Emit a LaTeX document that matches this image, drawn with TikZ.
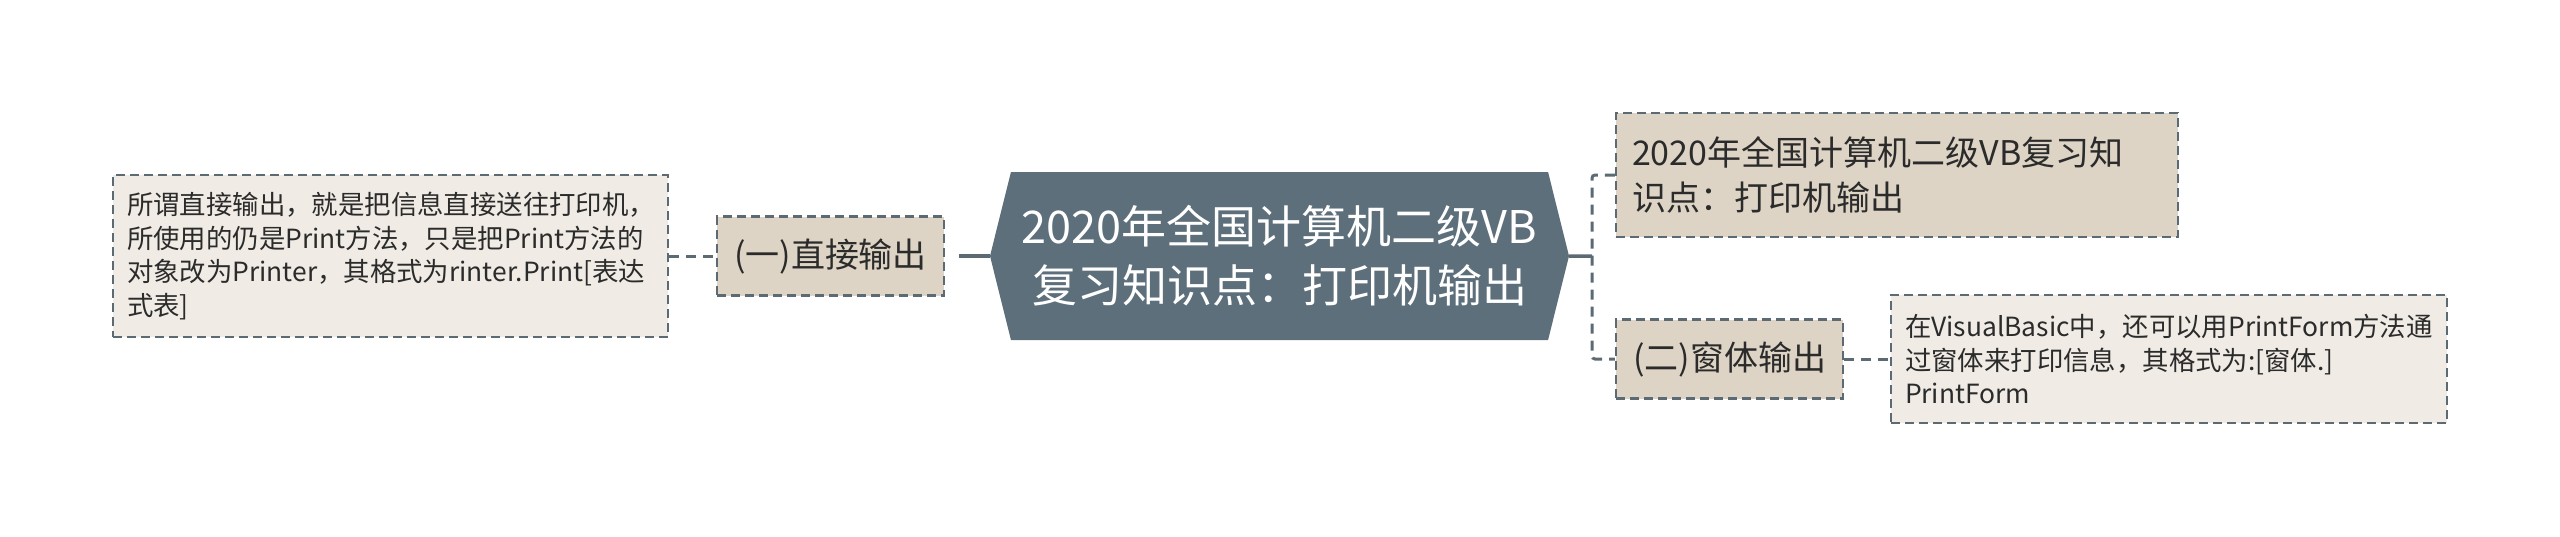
\documentclass[tikz,border=0pt]{standalone}
\usepackage{fontspec}
\setmainfont{Noto Sans CJK SC}
\usepackage{xcolor}
\usetikzlibrary{shapes.symbols}
\definecolor{rootfill}{HTML}{5D6F7B}
\definecolor{mainfill}{HTML}{DDD4C5}
\definecolor{subfill}{HTML}{F0ECE5}
\definecolor{edgecol}{HTML}{5C6A74}
\definecolor{txt}{HTML}{2B2B2B}

\begin{document}
\begin{tikzpicture}[x=1pt, y=-1pt,
    every node/.style={text=txt, inner sep=0pt},
    mainbox/.style={draw=edgecol, line width=2.5pt, dash pattern=on 9pt off 5pt, fill=mainfill, font=\fontsize{34}{45}\selectfont},
    subbox/.style={draw=edgecol, line width=2.5pt, dash pattern=on 9pt off 5pt, fill=subfill, font=\fontsize{26.4}{33.5}\selectfont, align=left},
    link/.style={draw=edgecol, line width=3pt, dash pattern=on 10pt off 7pt},
    trunk/.style={draw=edgecol, line width=3.5pt}]
      \useasboundingbox (0,0) rectangle (2560,536);

      \node[signal, signal to=west and east, signal pointer angle=152, minimum width=579, minimum height=168, fill=rootfill, text=white, align=center, font=\fontsize{45}{59}\selectfont] (0) at (1279.5,256) {2020年全国计算机二级VB\\复习知识点：打印机输出};
      \node[mainbox, minimum width=227, minimum height=79] (1) at (830.5,256) {(一)直接输出};
      \node[subbox, inner xsep=14, text width=527, minimum height=162] (2) at (390.5,256) {所谓直接输出，就是把信息直接送往打印机，\\所使用的仍是Print方法，只是把Print方法的\\对象改为Printer，其格式为rinter.Print[表达\\式表]};
      \node[mainbox, align=left, inner xsep=16, text width=530, minimum height=124] (3) at (1897,175) {2020年全国计算机二级VB复习知\\识点：打印机输出};
      \node[mainbox, minimum width=227, minimum height=79] (4) at (1729.5,359) {(二)窗体输出};
      \node[subbox, inner xsep=14, text width=528, minimum height=128] (5) at (2169,359) {在VisualBasic中，还可以用PrintForm方法通\\过窗体来打印信息，其格式为:[窗体.]\\PrintForm};
      \coordinate (j) at (1592,256);

      \draw[link] (2) -- (1);
      \draw[trunk, shorten <=14pt] (1) -- (0);
      \draw[trunk] (0) -- (j);
      \draw[link, rounded corners=3pt] (3.west) -| (j) |- (4.west);
      \draw[link] (4) -- (5);
    \end{tikzpicture}
\end{document}
